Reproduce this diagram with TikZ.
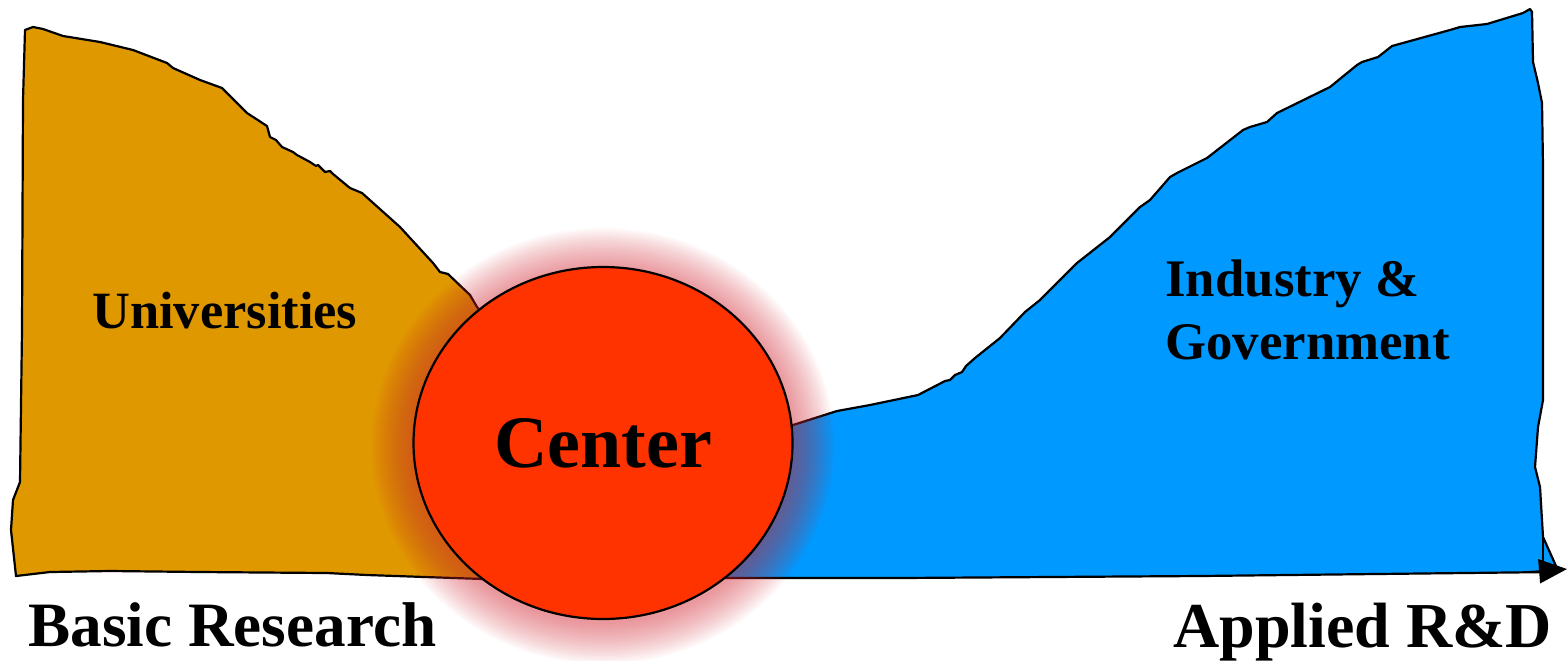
\documentclass[tikz,border=0pt]{standalone}
\usepackage{fontspec}
\setmainfont{Liberation Serif}
\usetikzlibrary{shapes.geometric,arrows.meta}
\definecolor{uniorange}{RGB}{224,152,0}
\definecolor{indblue}{RGB}{0,153,255}
\definecolor{centerred}{RGB}{255,51,0}
\definecolor{glowred}{RGB}{210,44,55}
\tikzset{
  region/.style={draw=black, line width=1.1pt, line join=round},
  lbl/.style={font=\bfseries, anchor=base west, inner sep=0pt},
}
\begin{document}
\begin{tikzpicture}[x=0.5pt,y=-0.5pt]
\useasboundingbox (0,0) rectangle (1567,660);
% Universities region
\path[region, fill=uniorange] (25,30) -- (33,27) -- (43,29) -- (63,36) -- (100,42) -- (133,50) -- (167,63) -- (173,68) -- (200,80) -- (222,88) -- (247,113) -- (267,126) -- (270,137) -- (276,140) -- (282,147) -- (293,152) -- (297,155) -- (310,162) -- (316,166) -- (318,165) -- (325,172) -- (330,171) -- (333,174) -- (350,188) -- (362,193) -- (400,227) -- (433,263) -- (440,272) -- (448,274) -- (470,295) -- (477,307) -- (520,360) -- (560,580) -- (483,579) -- (367,575) -- (327,573) -- (200,572) -- (110,571) -- (50,572) -- (16,576) -- (11,530) -- (13,500) -- (20,482) -- (22,330) -- (23,100) -- cycle;
% Industry region
\path[region, fill=indblue] (700,436) -- (793,425) -- (837,411) -- (870,405) -- (918,395) -- (945,381) -- (950,380) -- (955,375) -- (962,372) -- (966,366) -- (975,358) -- (1000,338) -- (1025,312) -- (1040,300) -- (1050,290) -- (1077,263) -- (1110,237) -- (1137,210) -- (1140,207) -- (1150,200) -- (1170,177) -- (1177,173) -- (1193,165) -- (1207,158) -- (1243,130) -- (1250,127) -- (1267,122) -- (1277,113) -- (1330,87) -- (1357,65) -- (1362,62) -- (1378,57) -- (1392,46) -- (1450,30) -- (1460,27) -- (1487,24) -- (1523,13) -- (1530,9) -- (1532,12) -- (1533,62) -- (1538,83) -- (1542,103) -- (1543,167) -- (1543,400) -- (1538,427) -- (1535,467) -- (1540,487) -- (1543,537) -- (1556,566) -- (1553,572) -- (1200,576) -- (900,578) -- (700,578) -- cycle;
\coordinate (edgetop) at (1543,537);
\coordinate (edgebot) at (1543,562);
\draw[line width=1.1pt] (edgetop) -- (edgebot);
\coordinate (axisstart) at (1530,572);
\coordinate (axisend) at (1567,569);
\draw[line width=1pt, -{Triangle[length=14pt, width=12pt]}] (axisstart) -- (axisend);
% glow
\foreach \i in {0,...,20}{
  \fill[glowred, opacity=0.03] (603,446) ellipse ({189.5+42-2*\i} and {176+42-2*\i});
}
% center
\node (center) [ellipse, draw=black, line width=1.1pt, fill=centerred, minimum width=189.5pt, minimum height=176pt, inner sep=0pt, font=\bfseries\fontsize{37}{44}\selectfont] at (603,443) {Center};
% labels
\node (uni) [lbl, font=\bfseries\fontsize{26.2}{31}\selectfont] at (92,328) {Universities};
\node (ind1) [lbl, font=\bfseries\fontsize{26.4}{31}\selectfont] at (1165,296) {Industry \&};
\node (ind2) [lbl, font=\bfseries\fontsize{26.4}{31}\selectfont] at (1165,359) {Government};
\node (basic) [lbl, font=\bfseries\fontsize{31.6}{38}\selectfont] at (28,646) {Basic Research};
\node (applied) [lbl, font=\bfseries\fontsize{32}{38}\selectfont] at (1173,647) {Applied R\&D};
\end{tikzpicture}
\end{document}
